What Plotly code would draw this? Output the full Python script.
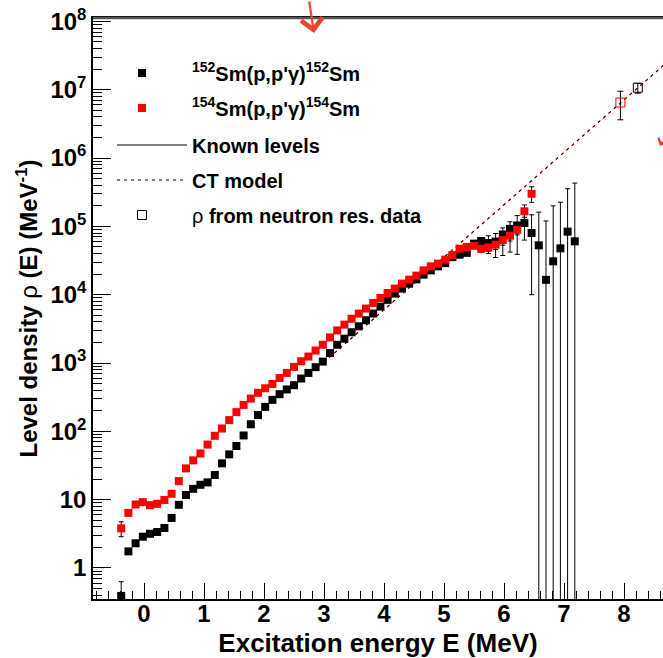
import plotly.graph_objects as go

# ---------------- data ----------------
energy = [-0.38, -0.26, -0.14, -0.02, 0.10, 0.22, 0.34, 0.46, 0.58, 0.70,
          0.82, 0.94, 1.06, 1.18, 1.30, 1.42, 1.54, 1.66, 1.78, 1.90,
          2.02, 2.14, 2.26, 2.38, 2.50, 2.62, 2.74, 2.86, 2.98, 3.10,
          3.22, 3.34, 3.46, 3.58, 3.70, 3.82, 3.94, 4.06, 4.18, 4.30,
          4.42, 4.54, 4.66, 4.78, 4.90, 5.02, 5.14, 5.26, 5.38, 5.50,
          5.62, 5.74, 5.86, 5.98, 6.10, 6.22, 6.34, 6.46, 6.58, 6.70,
          6.82, 6.94, 7.06, 7.18]

rho_152 = [0.39, 1.75, 2.3, 2.87, 3.17, 3.36, 3.85, 5.4, 8.4, 11.7,
           14.4, 16.5, 17.9, 23, 34, 46, 61, 87, 127, 173,
           228, 289, 350, 410, 474, 593, 716, 870, 1050, 1400,
           1850, 2270, 2820, 3450, 4230, 5300, 6700, 8400, 10400, 12300,
           14500, 16800, 19700, 22700, 26000, 29000, 35500, 38500, 41000, 55900,
           61000, 57000, 60000, 76000, 92000, 103000, 112000, 80000, 52800, 16500,
           30800, 47700, 83800, 60400]
err_152_plus = [0.24] + [0] * 44 + [1500, 2500, 3000, 3500, 5000,
                6000, 16000, 18700, 19000, 25000, 41000, 58000, 68000, 109000, 103500,
                169000, 178000, 272000, 370000]
err_152_minus = [0.2] + [0] * 44 + [1500, 2500, 3000, 3500, 5000,
                 6000, 17000, 25000, 38500, 50000, 64000, 49000, 70000, 52800, 16500,
                 30800, 47700, 83800, 60400]

energy_154 = energy[:58]
rho_154 = [3.8, 6.4, 8.5, 9.2, 8.3, 8.7, 9.9, 12.2, 18.7, 28.7,
           37.6, 47.5, 64, 86, 110, 146, 191, 244, 302, 366,
           427, 494, 604, 716, 877, 1062, 1244, 1523, 1850, 2370,
           3000, 3650, 4440, 5290, 6270, 7570, 8960, 10590, 12300, 14530,
           16600, 19000, 22700, 26000, 28500, 32600, 38000, 47200, 50000, 52000,
           47000, 49000, 54000, 63000, 73000, 89000, 166000, 300000]
err_154_plus = [0.95] + [0] * 47 + [3000, 4000, 5000, 6000, 8000, 10000, 12000, 14000, 40000, 80000]
err_154_minus = [0.93] + [0] * 47 + [3000, 4000, 5000, 6000, 8000, 10000, 12000, 14000, 30000, 75000]

# level density from neutron resonance data
nres_E_152 = [8.23]
nres_rho_152 = [1.07e7]
nres_err_152_plus = [1.7e6]
nres_err_152_minus = [1.8e6]
nres_E_154 = [7.94]
nres_rho_154 = [6.5e6]
nres_err_154_plus = [3.0e6]
nres_err_154_minus = [2.87e6]

# constant-temperature model (straight line on log scale)
ct_E = [3.0, 8.7]
ct_rho_152 = [1028, 2.45e7]
ct_rho_154 = [1028, 2.45e7]

# known levels (legend entry only; hidden below the data)
known_E = [None]
known_rho = [None]

xtick_vals = [0, 1, 2, 3, 4, 5, 6, 7, 8]
ytick_vals = [1, 10, 1e2, 1e3, 1e4, 1e5, 1e6, 1e7, 1e8]
ytick_text = ["1", "10", "10<sup>2</sup>", "10<sup>3</sup>", "10<sup>4</sup>",
              "10<sup>5</sup>", "10<sup>6</sup>", "10<sup>7</sup>", "10<sup>8</sup>"]

# minor tick positions for the log axis
y_minor = []
for p in range(-1, 8):
    for m in range(2, 10):
        y_minor.append(m * 10 ** p)

FONT = "Liberation Sans, Arial, Helvetica, sans-serif"

fig = go.Figure()

# CT model lines
fig.add_trace(go.Scatter(x=ct_E, y=ct_rho_154, mode="lines",
                         line=dict(color="red", width=1.3, dash="3px,4px"),
                         showlegend=False))
fig.add_trace(go.Scatter(x=ct_E, y=ct_rho_152, mode="lines",
                         line=dict(color="black", width=1, dash="3px,4px"),
                         name="CT model", legend="legend4"))

# Known levels (legend)
fig.add_trace(go.Scatter(x=known_E, y=known_rho, mode="lines",
                         line=dict(color="black", width=1),
                         name="Known levels", legend="legend3"))

# 152Sm
fig.add_trace(go.Scatter(
    x=energy, y=rho_152, mode="markers",
    marker=dict(symbol="square", size=8, color="black"),
    error_y=dict(type="data", symmetric=False, array=err_152_plus,
                 arrayminus=err_152_minus, color="black", thickness=1, width=2.5),
    name="<sup>152</sup>Sm(p,p'γ)<sup>152</sup>Sm", legend="legend"))

# 154Sm
fig.add_trace(go.Scatter(
    x=energy_154, y=rho_154, mode="markers",
    marker=dict(symbol="square", size=8, color="red"),
    error_y=dict(type="data", symmetric=False, array=err_154_plus,
                 arrayminus=err_154_minus, color="black", thickness=1, width=2.5),
    name="<sup>154</sup>Sm(p,p'γ)<sup>154</sup>Sm", legend="legend2"))

# neutron resonance data
fig.add_trace(go.Scatter(
    x=nres_E_154, y=nres_rho_154, mode="markers",
    marker=dict(symbol="square-open", size=9, color="red", line=dict(width=1)),
    error_y=dict(type="data", symmetric=False, array=nres_err_154_plus,
                 arrayminus=nres_err_154_minus, color="black", thickness=1, width=3),
    showlegend=False))
fig.add_trace(go.Scatter(
    x=nres_E_152, y=nres_rho_152, mode="markers",
    marker=dict(symbol="square-open", size=9, color="black", line=dict(width=1)),
    error_y=dict(type="data", symmetric=False, array=nres_err_152_plus,
                 arrayminus=nres_err_152_minus, color="black", thickness=1, width=3),
    name="<span style='font-weight:normal'>ρ</span> from neutron res. data",
    legend="legend5"))

W, H = 663, 658
ml, mr, mt, mb = 93, 0, 18, 59
pw, ph = W - ml - mr, H - mt - mb


def px_to_paper_x(p):
    return (p - ml) / pw


def px_to_paper_y(p):
    return (H - mb - p) / ph


legend_font = dict(family=FONT, size=20, color="black", weight="bold")
leg_marker = dict(bgcolor="rgba(0,0,0,0)", borderwidth=0, font=legend_font,
                  itemwidth=90, xanchor="left", yanchor="middle",
                  x=px_to_paper_x(92))
leg_line = dict(bgcolor="rgba(0,0,0,0)", borderwidth=0, font=legend_font,
                itemwidth=70, xanchor="left", yanchor="middle",
                x=px_to_paper_x(112))
legend_rows = [73, 108, 145, 180, 215]

fig.update_layout(
    width=W, height=H,
    margin=dict(l=ml, r=mr, t=mt, b=mb, autoexpand=False),
    paper_bgcolor="white", plot_bgcolor="white",
    font=dict(family=FONT, size=24, color="black", weight="bold"),
    legend=dict(**leg_marker, y=px_to_paper_y(legend_rows[0])),
    legend2=dict(**leg_marker, y=px_to_paper_y(legend_rows[1])),
    legend3=dict(**leg_line, y=px_to_paper_y(legend_rows[2])),
    legend4=dict(**leg_line, y=px_to_paper_y(legend_rows[3])),
    legend5=dict(**leg_marker, y=px_to_paper_y(legend_rows[4])),
    xaxis=dict(
        range=[-0.85, 8.65], tickmode="array", tickvals=xtick_vals,
        ticks="inside", ticklen=16, tickwidth=1, tickcolor="black",
        minor=dict(dtick=0.2, tick0=0, ticks="inside", ticklen=8,
                   tickwidth=1, tickcolor="black", showgrid=False),
        showgrid=False, zeroline=False, showline=True, linecolor="black",
        linewidth=1.5, mirror=True, ticklabelstandoff=-8,
        tickfont=dict(family=FONT, size=24, color="black", weight="bold"),
        title=dict(text="Excitation energy E (MeV)",
                   font=dict(family=FONT, size=26, color="black", weight="bold"),
                   standoff=12),
    ),
    yaxis=dict(
        type="log", range=[-0.454, 8.05], tickmode="array",
        tickvals=ytick_vals, ticktext=ytick_text,
        ticks="inside", ticklen=18, tickwidth=1, tickcolor="black",
        minor=dict(tickmode="array", tickvals=y_minor, ticks="inside",
                   ticklen=9, tickwidth=1, tickcolor="black", showgrid=False),
        showgrid=False, zeroline=False, showline=True, linecolor="black",
        linewidth=1.5,
        tickfont=dict(family=FONT, size=24, color="black", weight="bold"),
        title=dict(text="Level density <span style='font-weight:normal'>ρ</span> (E) (MeV<sup>-1</sup>)",
                   font=dict(family=FONT, size=24, color="black", weight="bold"),
                   standoff=6),
    ),
    shapes=[
        dict(type="line", xref="paper", yref="paper", x0=0, x1=1, y0=1, y1=1,
             line=dict(color="#555555", width=2.5)),
    ],
    annotations=[
        dict(xref="paper", yref="paper", x=px_to_paper_x(314), y=px_to_paper_y(33),
             ax=-5, ay=-38, showarrow=True, arrowhead=4, arrowsize=1.9,
             arrowwidth=2.2, arrowcolor="#e8452c", text=""),
        dict(xref="paper", yref="paper", x=px_to_paper_x(660), y=px_to_paper_y(146),
             ax=30, ay=-6, showarrow=True, arrowhead=4, arrowsize=0.8,
             arrowwidth=2.5, arrowcolor="#e8452c", text=""),
    ],
)

fig.write_html("out.html")
